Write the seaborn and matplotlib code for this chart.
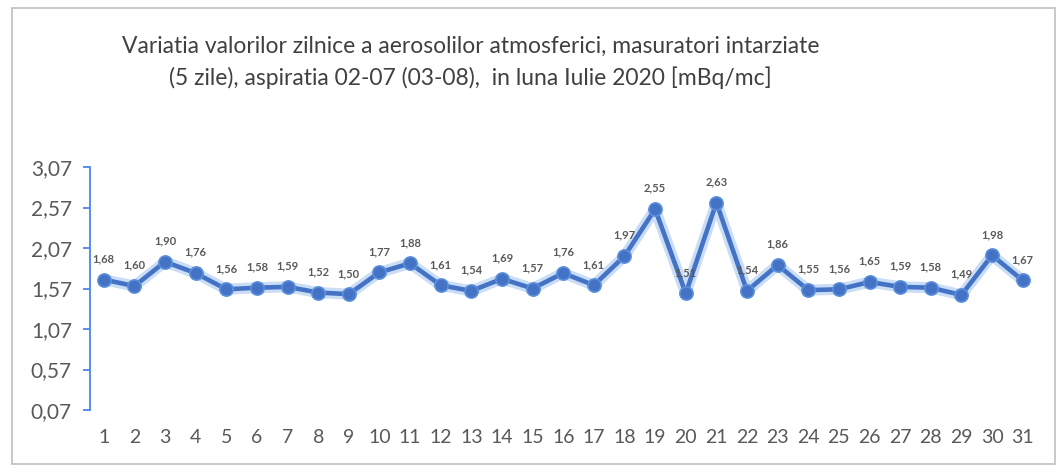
import numpy as np
import pandas as pd
import matplotlib
matplotlib.use('Agg')
import matplotlib.pyplot as plt
import seaborn as sns
from matplotlib.patches import Rectangle

# date
zile = list(range(1, 32))
valori = [1.68, 1.60, 1.90, 1.76, 1.56, 1.58, 1.59, 1.52, 1.50, 1.77,
          1.88, 1.61, 1.54, 1.69, 1.57, 1.76, 1.61, 1.97, 2.55, 1.51,
          2.63, 1.54, 1.86, 1.55, 1.56, 1.65, 1.59, 1.58, 1.49, 1.98, 1.67]
y_ticks = [0.07, 0.57, 1.07, 1.57, 2.07, 2.57, 3.07]
titlu = ('Variatia valorilor zilnice a aerosolilor atmosferici, masuratori intarziate\n'
         '(5 zile), aspiratia 02-07 (03-08),  in luna Iulie 2020 [mBq/mc]')

df = pd.DataFrame({'Zi': zile, 'Valoare': valori})

sns.set_style('white')
plt.rcParams['font.family'] = ['Lato', 'DejaVu Sans']

fig = plt.figure(figsize=(10.62, 4.72), dpi=100)
ax = fig.add_axes([90 / 1062, 1 - 410 / 472, 948 / 1062, 243 / 472])

blue = '#4472C4'
# "glow" in jurul liniei
sns.lineplot(data=df, x='Zi', y='Valoare', ax=ax, color='#9DC3F0', lw=8, alpha=0.55)
sns.lineplot(data=df, x='Zi', y='Valoare', ax=ax, color=blue, lw=3.3,
             marker='o', markersize=9.5, markeredgecolor='#5B8FDB', markeredgewidth=1.2)

for z, v in zip(zile, valori):
    ax.annotate(f'{v:.2f}'.replace('.', ','), (z, v), xytext=(0, 11),
                textcoords='offset points', ha='center', va='bottom',
                fontsize=8, color='#595959', fontweight='bold')

ax.set_xlim(0.55, 31.5)
ax.set_ylim(0.07, 3.07)
ax.set_xticks(zile)
ax.set_xticklabels([str(z) for z in zile])
ax.set_yticks(y_ticks)
ax.set_yticklabels([f'{t:.2f}'.replace('.', ',') for t in y_ticks])
ax.set_xlabel('')
ax.set_ylabel('')

for s in ['top', 'right', 'bottom']:
    ax.spines[s].set_visible(False)
ax.spines['left'].set_color('#4A86E8')
ax.spines['left'].set_linewidth(1.3)
ax.tick_params(axis='y', left=True, direction='out', length=5, color='#4A86E8', width=1.3,
               labelsize=15, labelcolor='#595959', pad=8)
ax.tick_params(axis='x', bottom=False, length=0, labelsize=14, labelcolor='#595959', pad=14)
ax.grid(False)

fig.text(0.443, 0.868, titlu, ha='center', va='center', fontsize=16.5,
         color='#404040', linespacing=1.5)

fig.patches.append(Rectangle((12 / 1062, 8 / 472), 1043 / 1062, 456 / 472,
                             transform=fig.transFigure, fill=False,
                             edgecolor='#BFBFBF', lw=1.2))

fig.savefig('out.png', dpi=100)
